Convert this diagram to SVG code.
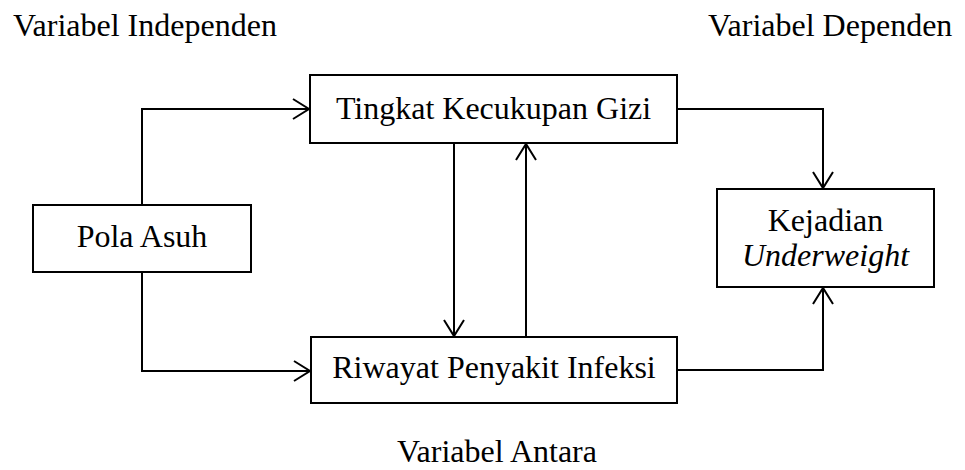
<svg xmlns="http://www.w3.org/2000/svg" width="965" height="470" viewBox="0 0 965 470">
<style>
.box{fill:#fff;stroke:#000;stroke-width:2}
.t{font-family:"Liberation Serif","Times New Roman",serif;font-size:32px;fill:#000}
.c{text-anchor:middle}
.conn path{fill:none;stroke:#000;stroke-width:2}
</style>
<defs>
<marker id="ah" markerUnits="userSpaceOnUse" viewBox="-20 -14 24 28" refX="0" refY="0" markerWidth="24" markerHeight="28" orient="auto" overflow="visible">
<path d="M-16,-10 L0,0 L-16,10" fill="none" stroke="#000" stroke-width="2"/>
</marker>
</defs>
<rect width="965" height="470" fill="#fff"/>
<text class="t" x="13" y="36">Variabel Independen</text>
<text class="t" x="708" y="36">Variabel Dependen</text>
<text class="t c" x="497" y="462">Variabel Antara</text>
<g class="conn">
<path d="M142,205 V109 H309" marker-end="url(#ah)"/>
<path d="M142,272 V371 H310" marker-end="url(#ah)"/>
<path d="M454,143 V336" marker-end="url(#ah)"/>
<path d="M526,337 V144" marker-end="url(#ah)"/>
<path d="M677,109 H823 V188" marker-end="url(#ah)"/>
<path d="M677,370 H823 V288" marker-end="url(#ah)"/>
</g>
<g id="tingkat">
<rect class="box" x="310" y="75" width="367" height="68"/>
<text class="t c" x="493.5" y="119">Tingkat Kecukupan Gizi</text>
</g>
<g id="pola">
<rect class="box" x="33" y="205" width="218" height="67"/>
<text class="t c" x="142" y="247">Pola Asuh</text>
</g>
<g id="riwayat">
<rect class="box" x="311" y="337" width="366" height="66"/>
<text class="t c" x="494" y="378">Riwayat Penyakit Infeksi</text>
</g>
<g id="kejadian">
<rect class="box" x="717" y="189" width="217" height="98"/>
<text class="t c" x="825.5" y="231">Kejadian</text>
<text class="t c" x="825.5" y="266" font-style="italic">Underweight</text>
</g>
</svg>
